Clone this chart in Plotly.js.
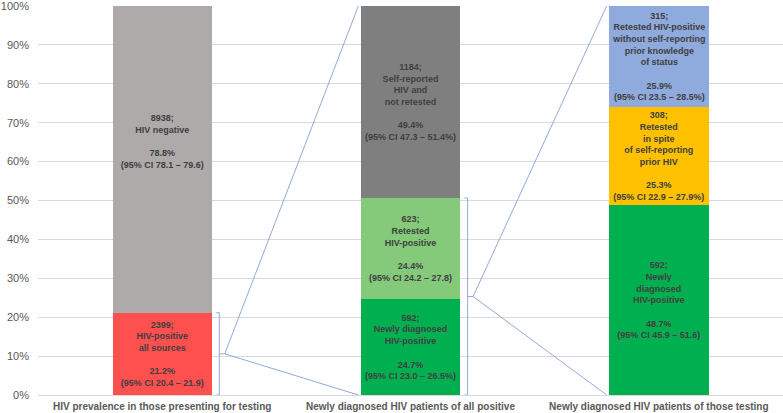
<!DOCTYPE html>
<html>
<head>
<meta charset="utf-8">
<script src="https://cdn.plot.ly/plotly-3.0.1.min.js"></script>
<style>html,body{margin:0;padding:0;background:#fff}#chart{width:783px;height:413px}</style>
</head>
<body>
<div id="chart"></div>
<script>
var categories = ["HIV prevalence in those presenting for testing",
                  "Newly diagnosed HIV patients of all positive",
                  "Newly diagnosed HIV patients of those testing"];

// stack levels (bottom -> top), counts
var level0 = [2399, 592, 592];
var level1 = [8938, 623, 308];
var level2 = [0, 1184, 315];

var level0Labels = [
  "2399;<br>HIV-positive<br>all sources<br> <br>21.2%<br>(95% CI 20.4 – 21.9)",
  "592;<br>Newly diagnosed<br>HIV-positive<br> <br>24.7%<br>(95% CI 23.0 – 26.5%)",
  "592;<br>Newly<br>diagnosed<br>HIV-positive<br> <br>48.7%<br>(95% CI 45.9 – 51.6)"
];
var level1Labels = [
  "8938;<br>HIV negative<br> <br>78.8%<br>(95% CI 78.1 – 79.6)<br> <br> <br> ",
  "623;<br>Retested<br>HIV-positive<br> <br>24.4%<br>(95% CI 24.2 – 27.8)",
  "308;<br>Retested<br>in spite<br>of self-reporting<br>prior HIV<br> <br>25.3%<br>(95% CI 22.9 – 27.9%)"
];
var level2Labels = [
  "",
  "1184;<br>Self-reported<br>HIV and<br>not retested<br> <br>49.4%<br>(95% CI 47.3 – 51.4%)",
  "315;<br>Retested HIV-positive<br>without self-reporting<br>prior knowledge<br>of status<br> <br>25.9%<br>(95% CI 23.5 – 28.5%)"
];

var level0Colors = ["#FF5050", "#00B050", "#00B050"];
var level1Colors = ["#AEAAAA", "#85C97B", "#FFC000"];
var level2Colors = ["#AEAAAA", "#7F7F7F", "#8FAADC"];

var yTickVals = [0,10,20,30,40,50,60,70,80,90,100];
var yTickText = ["0%","10%","20%","30%","40%","50%","60%","70%","80%","90%","100%"];

var font = "Liberation Sans, Arial, sans-serif";
function trace(vals, labels, colors) {
  return {
    type: "bar", x: categories, y: vals, text: labels,
    textposition: "inside", insidetextanchor: "middle", textangle: 0,
    texttemplate: "<b>%{text}</b>",
    textfont: {family: font, size: 9, color: "#404040"},
    marker: {color: colors, line: {width: 0}},
    hoverinfo: "skip", showlegend: false, cliponaxis: false
  };
}
var data = [trace(level0, level0Labels, level0Colors),
            trace(level1, level1Labels, level1Colors),
            trace(level2, level2Labels, level2Colors)];

// derived percentages for brackets
function total(i){ return level0[i] + level1[i] + level2[i]; }
var top1 = 100 * level0[0] / total(0);
var top2 = 100 * (level0[1] + level1[1]) / total(1);
var half = 0.2; // bar half-width in category units
var lineStyle = {color: "#8FAADC", width: 1};
function seg(x0,y0,x1,y1){ return {type:"line", xref:"x", yref:"y", x0:x0, y0:y0, x1:x1, y1:y1, line:lineStyle}; }
function bracket(ci, yTop) {
  var bx = ci + half + 0.03, tip = ci + half + 0.052, mid = yTop / 2;
  var nextLeft = ci + 1 - half - 0.01;
  return [
    seg(bx, 0, bx, yTop),
    seg(bx - 0.012, yTop, bx, yTop),
    seg(bx - 0.012, 0, bx, 0),
    seg(bx, mid, tip, mid),
    seg(tip, mid, nextLeft, 100),
    seg(tip, mid, nextLeft, 0)
  ];
}
var shapes = bracket(0, top1).concat(bracket(1, top2));

var layout = {
  width: 783, height: 413,
  margin: {l: 38, r: 0, t: 6, b: 18},
  barmode: "stack", barnorm: "percent", bargap: 0.6,
  paper_bgcolor: "#fff", plot_bgcolor: "#fff",
  font: {family: font, color: "#595959"},
  xaxis: {type: "category", range: [-0.5, 2.5], showgrid: false, showline: false,
          ticks: "", tickfont: {family: font, size: 10, color: "#595959", weight: "bold"}, ticklabelstandoff: 4},
  yaxis: {range: [0, 100], tickvals: yTickVals, ticktext: yTickText, showgrid: true,
          gridcolor: "#D9D9D9", gridwidth: 1, zeroline: true, zerolinecolor: "#D9D9D9",
          showline: false, ticks: "", ticklabeloverflow: "allow",
          tickfont: {family: font, size: 11, color: "#595959"}, ticklabelstandoff: 8},
  shapes: shapes
};
Plotly.newPlot("chart", data, layout, {displayModeBar: false, staticPlot: true});
</script>
</body>
</html>
